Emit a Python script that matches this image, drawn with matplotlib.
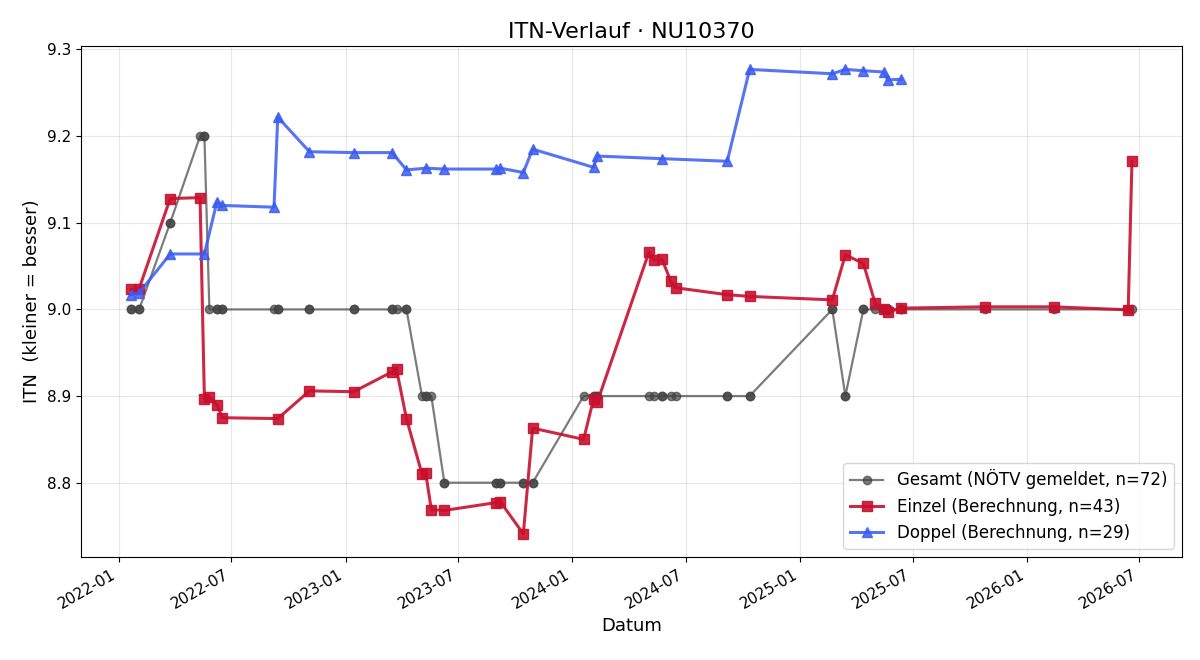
import matplotlib
matplotlib.use("Agg")
import matplotlib.pyplot as plt
import matplotlib.dates as mdates
import pandas as pd

# Einzel (Berechnung)
einzel_dates = ["2022-01-21", "2022-02-03", "2022-03-25", "2022-05-12", "2022-05-19",
                "2022-05-27", "2022-06-08", "2022-06-17", "2022-09-14", "2022-11-04",
                "2023-01-14", "2023-03-17", "2023-03-24", "2023-04-09", "2023-05-04",
                "2023-05-10", "2023-05-19", "2023-06-09", "2023-08-31", "2023-09-07",
                "2023-10-14", "2023-10-29", "2024-01-19", "2024-02-04", "2024-02-10",
                "2024-05-03", "2024-05-11", "2024-05-24", "2024-06-07", "2024-06-15",
                "2024-09-06", "2024-10-12", "2025-02-22", "2025-03-15", "2025-04-13",
                "2025-05-02", "2025-05-16", "2025-05-22", "2025-06-13", "2025-10-26",
                "2026-02-14", "2026-06-13", "2026-06-19"]
einzel_values = [9.023, 9.024, 9.128, 9.129, 8.897,
                 8.899, 8.890, 8.875, 8.874, 8.906,
                 8.905, 8.928, 8.931, 8.874, 8.810,
                 8.811, 8.769, 8.768, 8.777, 8.778,
                 8.741, 8.863, 8.850, 8.897, 8.893,
                 9.066, 9.057, 9.058, 9.033, 9.025,
                 9.017, 9.015, 9.011, 9.063, 9.053,
                 9.007, 9.001, 8.997, 9.0015, 9.003,
                 9.003, 8.9995, 9.171]

# Doppel (Berechnung)
doppel_dates = ["2022-01-21", "2022-02-03", "2022-03-25", "2022-05-19", "2022-06-08",
                "2022-06-17", "2022-09-08", "2022-09-14", "2022-11-04", "2023-01-14",
                "2023-03-17", "2023-04-09", "2023-05-10", "2023-06-09", "2023-08-31",
                "2023-09-07", "2023-10-14", "2023-10-29", "2024-02-04", "2024-02-10",
                "2024-05-24", "2024-09-06", "2024-10-12", "2025-02-22", "2025-03-15",
                "2025-04-13", "2025-05-16", "2025-05-22", "2025-06-13"]
doppel_values = [9.017, 9.019, 9.064, 9.064, 9.124,
                 9.120, 9.118, 9.222, 9.182, 9.181,
                 9.181, 9.161, 9.163, 9.162, 9.162,
                 9.163, 9.158, 9.185, 9.164, 9.177,
                 9.174, 9.171, 9.277, 9.272, 9.277,
                 9.2755, 9.274, 9.265, 9.2655]

# Gesamt (NÖTV gemeldet) - value per match date
gesamt_level_dates = ["2022-01-21", "2022-02-03", "2022-03-25", "2022-05-12", "2022-05-19",
                      "2022-05-27", "2022-06-08", "2022-06-17", "2022-09-08", "2022-09-14",
                      "2022-11-04", "2023-01-14", "2023-03-17", "2023-03-24", "2023-04-09",
                      "2023-05-04", "2023-05-10", "2023-05-19", "2023-06-09", "2023-08-31",
                      "2023-09-07", "2023-10-14", "2023-10-29", "2024-01-19", "2024-02-04",
                      "2024-02-10", "2024-05-03", "2024-05-11", "2024-05-24", "2024-06-07",
                      "2024-06-15", "2024-09-06", "2024-10-12", "2025-02-22", "2025-03-15",
                      "2025-04-13", "2025-05-02", "2025-05-16", "2025-05-22", "2025-06-13",
                      "2025-10-26", "2026-02-14", "2026-06-13", "2026-06-19"]
gesamt_level_values = [9.0, 9.0, 9.1, 9.2, 9.2,
                       9.0, 9.0, 9.0, 9.0, 9.0,
                       9.0, 9.0, 9.0, 9.0, 9.0,
                       8.9, 8.9, 8.9, 8.8, 8.8,
                       8.8, 8.8, 8.8, 8.9, 8.9,
                       8.9, 8.9, 8.9, 8.9, 8.9,
                       8.9, 8.9, 8.9, 9.0, 8.9,
                       9.0, 9.0, 9.0, 9.0, 9.0,
                       9.0, 9.0, 9.0, 9.0]

lookup = dict(zip(gesamt_level_dates, gesamt_level_values))
gesamt_dates = sorted(einzel_dates + doppel_dates)
gesamt_values = [lookup[d] for d in gesamt_dates]

fig, ax = plt.subplots(figsize=(12, 6.6), dpi=100)

ax.plot(pd.to_datetime(gesamt_dates), gesamt_values, marker="o", color="#444444",
        alpha=0.7, lw=1.6, ms=6, label=f"Gesamt (NÖTV gemeldet, n={len(gesamt_dates)})")
ax.plot(pd.to_datetime(einzel_dates), einzel_values, marker="s", color="#C8102E",
        alpha=0.9, lw=2.2, ms=7, label=f"Einzel (Berechnung, n={len(einzel_dates)})")
ax.plot(pd.to_datetime(doppel_dates), doppel_values, marker="^", color="#3A5CF0",
        alpha=0.85, lw=2.2, ms=7, label=f"Doppel (Berechnung, n={len(doppel_dates)})")

ax.set_title("ITN-Verlauf · NU10370", fontsize=16)
ax.set_xlabel("Datum", fontsize=13)
ax.set_ylabel("ITN  (kleiner = besser)", fontsize=13)
ax.tick_params(labelsize=11)
ax.grid(True, alpha=0.3)
ax.xaxis.set_major_locator(mdates.MonthLocator(bymonth=[1, 7]))
ax.xaxis.set_major_formatter(mdates.DateFormatter("%Y-%m"))
ax.legend(loc="lower right", fontsize=12)
fig.autofmt_xdate()
fig.subplots_adjust(left=0.0675, right=0.985, top=0.930, bottom=0.156)
fig.savefig("out.png", dpi=100)
